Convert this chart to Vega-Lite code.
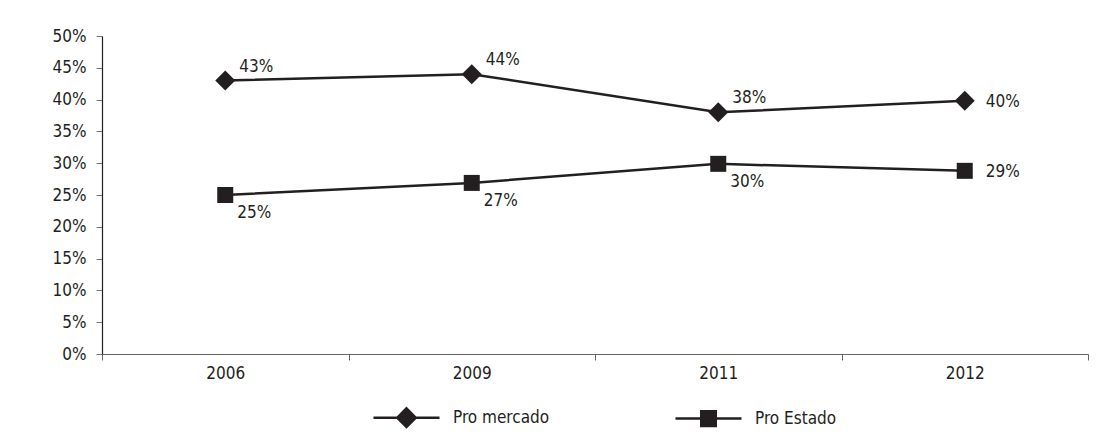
{
  "$schema": "https://vega.github.io/schema/vega-lite/v6.json",
  "width": 986,
  "height": 318,
  "autosize": {"type": "none"},
  "padding": {"left": 102, "top": 36, "right": 26, "bottom": 83},
  "background": "white",
  "config": {
    "view": {"stroke": null},
    "font": "DejaVu Sans Condensed",
    "axis": {"labelFont": "DejaVu Sans Condensed", "labelFontSize": 17, "labelColor": "#231f20", "grid": false, "title": null},
    "legend": {"labelFont": "DejaVu Sans Condensed"},
    "text": {"font": "DejaVu Sans Condensed", "fontSize": 17, "fill": "#231f20"}
  },
  "data": {
    "values": [
      {"year": "2006", "series": "Pro mercado", "value": 43, "label": "43%"},
      {"year": "2009", "series": "Pro mercado", "value": 44, "label": "44%"},
      {"year": "2011", "series": "Pro mercado", "value": 38, "label": "38%"},
      {"year": "2012", "series": "Pro mercado", "value": 39.8, "label": "40%"},
      {"year": "2006", "series": "Pro Estado", "value": 25, "label": "25%"},
      {"year": "2009", "series": "Pro Estado", "value": 26.9, "label": "27%"},
      {"year": "2011", "series": "Pro Estado", "value": 29.9, "label": "30%"},
      {"year": "2012", "series": "Pro Estado", "value": 28.8, "label": "29%"}
    ]
  },
  "encoding": {
    "x": {
      "field": "year", "type": "ordinal",
      "scale": {"type": "band", "paddingInner": 0, "paddingOuter": 0},
      "axis": {"labelAngle": 0, "tickBand": "extent", "tickSize": 6, "labelPadding": 5, "domainColor": "#666666", "tickColor": "#666666", "domainWidth": 1.2,
        "encode": {"ticks": {"update": {"strokeOpacity": {"signal": "datum.extra ? 0 : 1"}}}}}
    },
    "y": {
      "field": "value", "type": "quantitative",
      "scale": {"domain": [0, 50], "nice": false},
      "axis": {"values": [0, 5, 10, 15, 20, 25, 30, 35, 40, 45, 50], "labelExpr": "datum.value + '%'", "tickSize": 6, "labelPadding": 10, "domainColor": "#231f20", "tickColor": "#777777", "domainWidth": 1.2}
    }
  },
  "layer": [
    {
      "mark": {"type": "line", "strokeWidth": 2.5},
      "encoding": {
        "detail": {"field": "series"},
        "color": {
          "field": "series", "type": "nominal",
          "scale": {"domain": ["Pro mercado", "Pro Estado"], "range": ["#231f20", "#231f20"]},
          "legend": {
            "orient": "none", "legendX": 270, "legendY": 347, "direction": "horizontal", "title": null,
            "symbolSize": 4356, "symbolStrokeWidth": 2.5, "labelFontSize": 17, "labelColor": "#231f20",
            "labelOffset": 12, "columnPadding": 120, "padding": 0, "labelLimit": 300,
            "encode": {
              "symbols": {
                "update": {
                  "shape": {"signal": "datum.value === 'Pro mercado' ? 'M-1,0L1,0M0,-0.28L0.28,0L0,0.28L-0.28,0Z' : 'M-1,0L1,0M-0.22,-0.22L0.22,-0.22L0.22,0.22L-0.22,0.22Z'"},
                  "fill": {"value": "#231f20"},
                  "stroke": {"value": "#231f20"},
                  "opacity": {"value": 1}
                }
              }
            }
          }
        }
      }
    },
    {
      "transform": [{"filter": "datum.series === 'Pro mercado'"}],
      "mark": {"type": "point", "shape": "diamond", "filled": true, "size": 400, "color": "#231f20", "opacity": 1}
    },
    {
      "transform": [{"filter": "datum.series === 'Pro Estado'"}],
      "mark": {"type": "point", "shape": "square", "filled": true, "size": 256, "color": "#231f20", "opacity": 1}
    },
    {
      "transform": [{"filter": "datum.series === 'Pro mercado' && datum.year !== '2012'"}],
      "mark": {"type": "text", "align": "left", "baseline": "middle", "dx": 14, "dy": -14},
      "encoding": {"text": {"field": "label"}}
    },
    {
      "transform": [{"filter": "datum.series === 'Pro Estado' && datum.year !== '2012'"}],
      "mark": {"type": "text", "align": "left", "baseline": "middle", "dx": 12, "dy": 18},
      "encoding": {"text": {"field": "label"}}
    },
    {
      "transform": [{"filter": "datum.year === '2012'"}],
      "mark": {"type": "text", "align": "left", "baseline": "middle", "dx": 21, "dy": 1},
      "encoding": {"text": {"field": "label"}}
    }
  ]
}
